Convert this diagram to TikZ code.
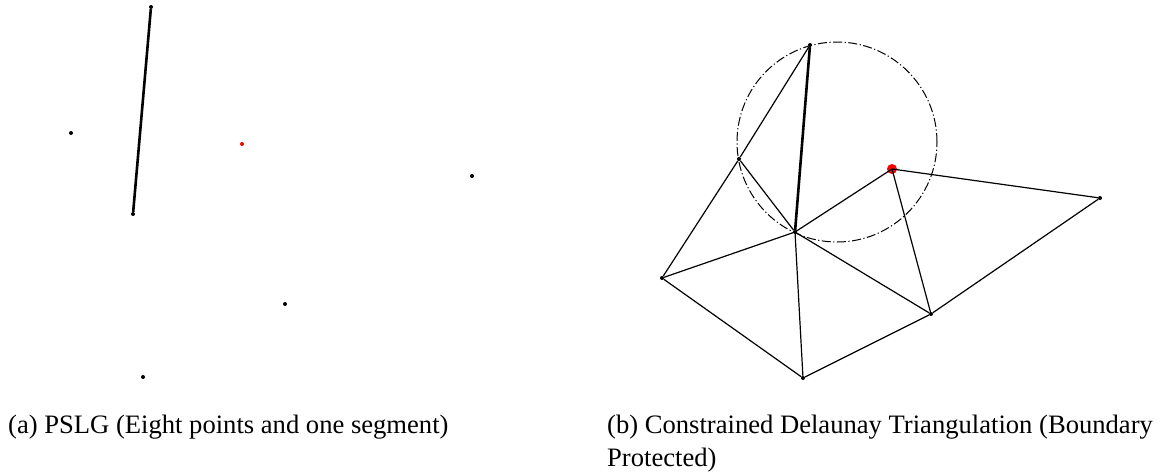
\documentclass[tikz,border=0pt]{standalone}
\usepackage{fontspec}
\setmainfont{Liberation Serif}
\usepackage{tikz}
\usetikzlibrary{positioning}

\begin{document}
\begin{tikzpicture}[x=1pt, y=-1pt,
  pt/.style={circle, fill, inner sep=0pt, minimum size=4pt},
  redpt/.style={pt, fill=red},
  bigred/.style={pt, fill=red, minimum size=10pt},
  edge/.style={line width=1.2pt},
  seg/.style={line width=2.6pt},
  circ/.style={line width=1pt, dash pattern=on 9pt off 2.5pt on 1.2pt off 2.5pt},
  captext/.style={font=\fontsize{26.6pt}{33pt}\selectfont, anchor=base west,
    inner sep=0pt, align=left}]
  \useasboundingbox (0,0) rectangle (1170,472);
  % (a) input points and segment
  \node[pt] (a1) at (151,7) {};
  \node[pt] (a2) at (133,214) {};
  \node[pt] (a3) at (71,133) {};
  \node[redpt] (a4) at (242,144) {};
  \node[pt] (a5) at (472,176) {};
  \node[pt] (a6) at (285,304) {};
  \node[pt] (a7) at (143,377) {};
  \draw[seg] (a1) -- (a2);
  % (b) triangulation
  \draw[circ] (837,142) circle (100pt);
  \node[pt] (b1) at (810,45) {};
  \node[pt] (b2) at (795,232) {};
  \node[pt] (b3) at (739,159) {};
  \node[pt] (b5) at (1100,198) {};
  \node[pt] (b6) at (931,314) {};
  \node[pt] (b7) at (803,378) {};
  \node[pt] (b8) at (662,278) {};
  \node[bigred] (b4) at (892,169) {};
  \draw[seg] (b1) -- (b2);
  \draw[edge] (b1) -- (b3) -- (b8) -- (b7) -- (b6) -- (b5) -- (b4.center)
    -- (b2.center);
  \draw[edge] (b3) -- (b2) -- (b8);
  \draw[edge] (b2) -- (b7);
  \draw[edge] (b2) -- (b6) -- (b4.center);
  \node[captext] (capa) at (8,433) {(a) PSLG (Eight points and one segment)};
  \node[captext] (capb) at (607,466)
    {(b) Constrained Delaunay Triangulation (Boundary\\Protected)};
\end{tikzpicture}
\end{document}
